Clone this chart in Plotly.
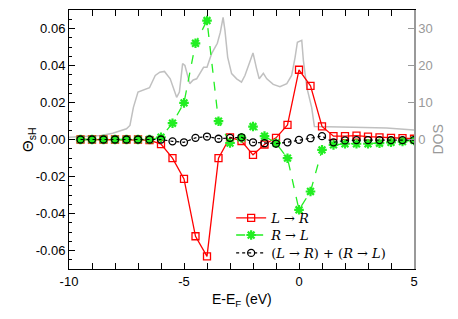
import plotly.graph_objects as go

# energies of the spin Hall points (eV)
energy = [-9.5, -9.0, -8.5, -8.0, -7.5, -7.0, -6.5, -6.0, -5.5, -5.0,
          -4.5, -4.0, -3.5, -3.0, -2.5, -2.0, -1.5, -1.0, -0.5, 0.0,
          0.5, 1.0, 1.5, 2.0, 2.5, 3.0, 3.5, 4.0, 4.5, 5.0]

theta_lr = [0.0, 0.0, 0.0, 0.0, 0.0, 0.0, -0.0003, -0.0025, -0.0101, -0.0213,
            -0.0523, -0.0632, -0.0101, 0.0012, -0.0008, -0.0083, -0.0027, 0.0009, 0.0079, 0.0377,
            0.029, 0.0071, 0.0018, 0.0018, 0.0021, 0.0016, 0.0012, 0.0009, 0.0007, 0.0004]

theta_rl = [0.0, 0.0, 0.0, 0.0, 0.0, 0.0, 0.0, 0.0012, 0.0088, 0.0198,
            0.052, 0.0643, 0.0099, -0.0019, 0.0009, 0.007, 0.0018, -0.002, -0.0101, -0.038,
            -0.0281, -0.0056, -0.0029, -0.0023, -0.0023, -0.0023, -0.002, -0.0015, -0.0011, -0.0005]

theta_sum = [0.0, 0.0, 0.0, 0.0, 0.0, 0.0, 0.0, 0.0, -0.001, -0.0015,
             0.0009, 0.0016, 0.0004, 0.0009, 0.0012, -0.0015, -0.002, -0.0022, -0.0015, -0.0002,
             0.0007, 0.0018, -0.0015, -0.0005, -0.0003, -0.0003, -0.0003, -0.0003, -0.0003, -0.0003]

# density of states curve
dos_energy = [-10.0, -9.5, -9.0, -8.6, -8.1, -7.5, -7.35, -7.2, -7.0, -6.5,
              -6.25, -6.05, -5.85, -5.6, -5.32, -5.2, -5.06, -4.96, -4.75, -4.6,
              -4.45, -4.15, -4.0, -3.8, -3.55, -3.42, -3.3, -3.22, -3.1, -2.93,
              -2.71, -2.5, -2.35, -2.15, -2.0, -1.85, -1.73, -1.55, -1.4, -1.12,
              -0.83, -0.53, -0.32, -0.17, -0.07, 0.12, 0.19, 0.34, 0.48, 0.55,
              0.67, 0.91, 2.36, 3.81, 5.0]
dos = [0.6, 0.8, 1.0, 1.1, 1.7, 2.9, 3.8, 8.7, 12.8, 14.0,
       17.3, 18.2, 18.4, 16.4, 11.4, 12.8, 20.5, 20.0, 15.1, 16.1,
       16.4, 19.5, 19.5, 23.2, 26.0, 29.0, 33.0, 29.5, 22.2, 17.8,
       16.4, 15.5, 17.3, 20.5, 23.4, 19.3, 16.4, 17.9, 16.4, 14.9,
       14.3, 15.1, 17.3, 22.2, 26.3, 26.8, 21.4, 14.1, 10.5, 8.7,
       3.5, 3.5, 3.3, 3.1, 2.6]

x_ticks = [-10, -5, 0, 5]
x_labels = ["-10", "-5", "0", "5"]
theta_ticks = [-0.06, -0.04, -0.02, 0.0, 0.02, 0.04, 0.06]
theta_labels = ["-0.06", "-0.04", "-0.02", "0.00", "0.02", "0.04", "0.06"]
dos_ticks = [0, 10, 20, 30]

fig = go.Figure()

# DOS sits on the base axis so it is drawn behind the other curves
fig.add_trace(go.Scatter(x=dos_energy, y=dos, mode="lines", yaxis="y",
                         line=dict(color="#c0c0c0", width=1.5), showlegend=False))

# one legend per entry so the rows can sit closer than plotly's default spacing
fig.add_trace(go.Scatter(
    x=energy, y=theta_lr, yaxis="y2", mode="lines+markers", legend="legend",
    name="<i>L</i> → <i>R</i>",
    line=dict(color="#ff0000", width=1.3),
    marker=dict(symbol="square-open", size=7, color="#ff0000", line=dict(width=1.3)),
))
fig.add_trace(go.Scatter(
    x=energy, y=theta_rl, yaxis="y2", mode="lines+markers", legend="legend2",
    name="<i>R</i> → <i>L</i>",
    line=dict(color="#22ee22", width=1.3, dash="dash"),
    marker=dict(symbol="asterisk-open", size=8, color="#22ee22", line=dict(width=2.2, color="#22ee22")),
))
fig.add_trace(go.Scatter(
    x=energy, y=theta_sum, yaxis="y2", mode="lines+markers", legend="legend3",
    name="(<i>L</i> → <i>R</i>) + (<i>R</i> → <i>L</i>)",
    line=dict(color="#000000", width=1.2, dash="dot"),
    marker=dict(symbol="circle-open", size=7, color="#000000", line=dict(width=1.3)),
))

# axis titles as free annotations so the plot box keeps its size
fig.add_annotation(text="Θ<sub>sH</sub>", xref="paper", yref="paper", x=-0.151, y=0.5,
                   textangle=-90, showarrow=False, font=dict(size=15))
fig.add_annotation(text="E-E<sub>F</sub> (eV)", xref="paper", yref="paper", x=0.5, y=-0.12,
                   yanchor="middle", showarrow=False, font=dict(size=14))
fig.add_annotation(text="DOS", xref="paper", yref="paper", x=1.096, y=0.5,
                   textangle=-90, showarrow=False, font=dict(size=14, color="#999999"))

legend_style = dict(
    x=0.47, xanchor="left", yanchor="middle",
    bgcolor="rgba(0,0,0,0)", borderwidth=0,
    font=dict(family="DejaVu Serif, Liberation Serif", size=13),
    itemwidth=30,
)

# the page adds an 8px body margin, so the figure is 8px smaller than the window
fig.update_layout(
    width=450, height=311,
    margin=dict(l=61, r=44, t=2, b=50),
    plot_bgcolor="white", paper_bgcolor="white",
    font=dict(family="Liberation Sans, Arial", size=13, color="black"),
    xaxis=dict(
        range=[-10, 5], tickvals=x_ticks, ticktext=x_labels, automargin=False,
        ticks="inside", ticklen=6, tickcolor="black",
        minor=dict(dtick=1, ticks="inside", ticklen=3, tickcolor="black"),
        showline=True, linecolor="black", linewidth=1, mirror="allticks",
        showgrid=False, zeroline=False,
    ),
    yaxis=dict(
        range=[-35, 35], side="right", tickvals=dos_ticks, automargin=False,
        ticks="inside", ticklen=6, tickcolor="#999999",
        tickfont=dict(color="#999999"),
        showline=True, linecolor="#999999", linewidth=1.5,
        showgrid=False, zeroline=False,
    ),
    yaxis2=dict(
        range=[-0.07, 0.07], overlaying="y", side="left", automargin=False,
        tickvals=theta_ticks, ticktext=theta_labels,
        ticks="inside", ticklen=6, tickcolor="black",
        minor=dict(dtick=0.005, ticks="inside", ticklen=3, tickcolor="black"),
        showline=True, linecolor="black", linewidth=1,
        showgrid=False, zeroline=False,
    ),
    legend=dict(y=0.197, **legend_style),
    legend2=dict(y=0.131, **legend_style),
    legend3=dict(y=0.062, **legend_style),
)

fig.write_html("out.html")
